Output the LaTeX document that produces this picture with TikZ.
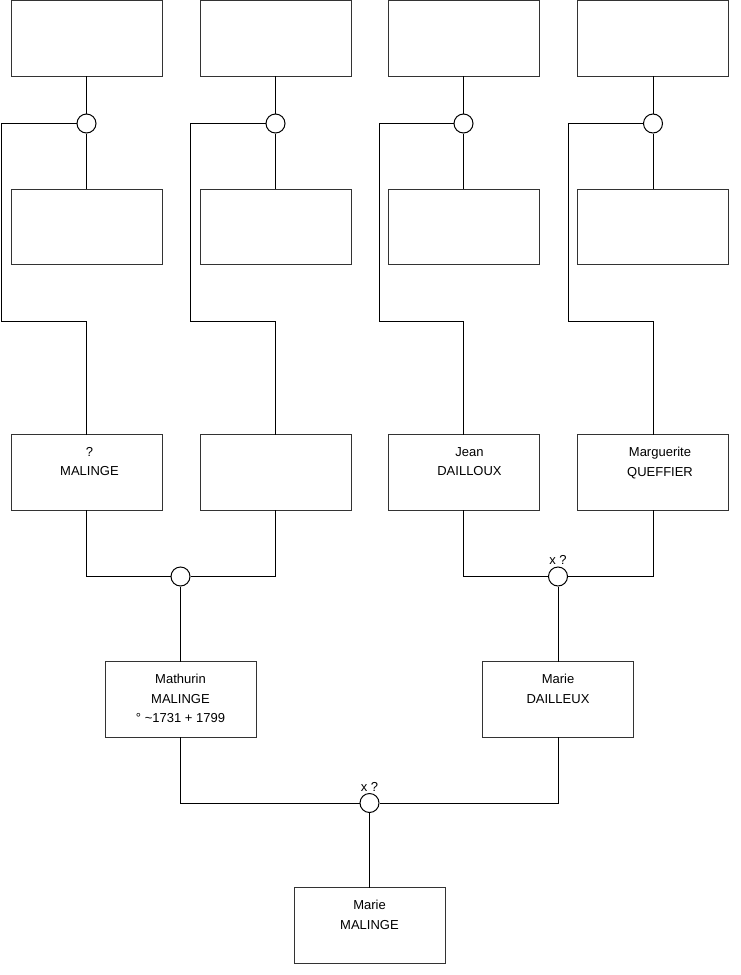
\documentclass[tikz,border=0pt]{standalone}
\usepackage{fontspec}
\setmainfont{Liberation Sans}
\usetikzlibrary{calc}
\begin{document}
\begin{tikzpicture}[x=1pt,y=-1pt, line width=1pt,
 pbox/.style={draw=black!80, minimum width=151pt, minimum height=75.5pt, inner sep=0pt, outer sep=0pt},
 union/.style={circle, draw, fill=white, minimum size=19pt, inner sep=0pt},
 txt/.style={font=\fontsize{13}{19.5}\selectfont, align=center, anchor=north, inner sep=0pt},
 lbl/.style={font=\fontsize{13}{13}\selectfont, anchor=south, inner sep=1.5pt},
 conn/.style={draw=black}]
\useasboundingbox (0,0) rectangle (740,975);
% top row
\node[pbox] (a1) at (86.5,38.5) {};
\node[pbox] (a2) at (275.5,38.5) {};
\node[pbox] (a3) at (463.5,38.5) {};
\node[pbox] (a4) at (653,38.5) {};
% unions
\node[union] (u1) at (86.5,123.5) {};
\node[union] (u2) at (275.5,123.5) {};
\node[union] (u3) at (463.5,123.5) {};
\node[union] (u4) at (653,123.5) {};
% second row
\node[pbox] (b1) at (86.5,227) {};
\node[pbox] (b2) at (275.5,227) {};
\node[pbox] (b3) at (463.5,227) {};
\node[pbox] (b4) at (653,227) {};
% fourth row
\node[pbox] (c1) at (86.5,472.5) {};
\node[pbox] (c2) at (275.5,472.5) {};
\node[pbox] (c3) at (463.5,472.5) {};
\node[pbox] (c4) at (653,472.5) {};
\node[txt] (t1) at ($(c1.north)+(3,12)$) {?\\MALINGE};
\node[txt] (t3) at ($(c3.north)+(6,12)$) {Jean\\DAILLOUX};
\node[txt] (t4) at ($(c4.north)+(7,12)$) {Marguerite\\QUEFFIER};
% bend coordinates
\coordinate (k1) at (1.5,321);
\coordinate (k2) at (190.5,321);
\coordinate (k3) at (379.5,321);
\coordinate (k4) at (568.5,321);
% unions second level
\node[union] (v1) at (180.5,576.5) {};
\node[union] (v2) at (558,576.5) {};
\node[lbl] (x1) at (v2.north) {x ?};
% parents
\node[pbox] (d1) at (180.5,699.5) {};
\node[pbox] (d2) at (558,699.5) {};
\node[txt] (t5) at ($(d1.north)+(0,12)$) {Mathurin\\MALINGE\\° \textasciitilde1731 + 1799};
\node[txt] (t6) at ($(d2.north)+(0,12)$) {Marie\\DAILLEUX};
% bottom union
\node[union] (w) at (369.5,803) {};
\node[lbl] (x2) at (w.north) {x ?};
\node[pbox] (e) at (369.5,925.5) {};
\node[txt] (t7) at ($(e.north)+(0,12)$) {Marie\\MALINGE};
% connectors
\foreach \i in {1,2,3,4}{
  \draw[conn] (a\i) -- (u\i);
  \draw[conn] (u\i) -- (b\i);
  \draw[conn] (u\i.west) -| (k\i) -| (c\i.north);
}
\draw[conn] (c1.south) |- (v1.west);
\draw[conn] (c2.south) |- (v1.east);
\draw[conn] (v1) -- (d1);
\draw[conn] (c3.south) |- (v2.west);
\draw[conn] (c4.south) |- (v2.east);
\draw[conn] (v2) -- (d2);
\draw[conn] (d1.south) |- (w.west);
\draw[conn] (d2.south) |- (w.east);
\draw[conn] (w) -- (e);
\end{tikzpicture}
\end{document}
